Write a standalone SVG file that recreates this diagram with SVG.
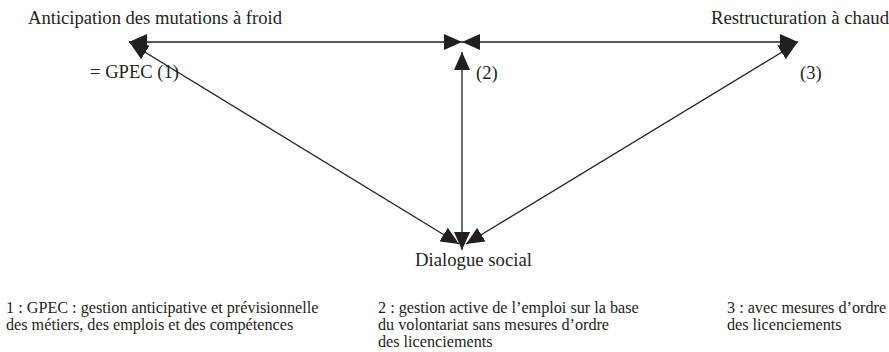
<svg xmlns="http://www.w3.org/2000/svg" width="889" height="352" viewBox="0 0 889 352">
<style>
.t{font-family:"Liberation Serif","Times New Roman",serif;font-size:18.6px;fill:#231f20}
.n{font-family:"Liberation Serif","Times New Roman",serif;font-size:16.2px;fill:#231f20}
.c{stroke:#231f20;stroke-width:1.3;fill:none;marker-start:url(#ah);marker-end:url(#ah)}
</style>
<defs>
<marker id="ah" viewBox="0 0 18 16" refX="18" refY="8" markerWidth="18" markerHeight="16" markerUnits="userSpaceOnUse" orient="auto-start-reverse">
<path d="M0,0 L18,8 L0,16 z" fill="#231f20"/>
</marker>
</defs>
<rect width="889" height="352" fill="#fff"/>
<g id="connectors">
<line class="c" x1="129" y1="42" x2="462" y2="42"/>
<line class="c" x1="462" y1="42" x2="798" y2="42"/>
<line class="c" x1="462" y1="250" x2="462" y2="52"/>
<line class="c" x1="130" y1="43" x2="459" y2="244"/>
<line class="c" x1="797" y1="43" x2="466" y2="244"/>
</g>
<g id="node-anticipation"><text class="t" x="28" y="24" textLength="254" lengthAdjust="spacingAndGlyphs">Anticipation des mutations à froid</text></g>
<g id="node-gpec"><text class="t" x="90" y="78">= GPEC (1)</text></g>
<g id="node-restructuration"><text class="t" x="711" y="24" textLength="178" lengthAdjust="spacingAndGlyphs">Restructuration à chaud</text></g>
<g id="node-2"><text class="t" x="476" y="79">(2)</text></g>
<g id="node-3"><text class="t" x="800" y="79">(3)</text></g>
<g id="node-dialogue"><text class="t" x="415" y="266" textLength="117" lengthAdjust="spacingAndGlyphs">Dialogue social</text></g>
<g id="note-1">
<text class="n" x="6" y="313">1 : GPEC : gestion anticipative et prévisionnelle</text>
<text class="n" x="6" y="330">des métiers,  des emplois et des compétences</text>
</g>
<g id="note-2">
<text class="n" x="378" y="313">2 : gestion active de l’emploi sur la base</text>
<text class="n" x="378" y="330">du volontariat sans mesures d’ordre</text>
<text class="n" x="378" y="347">des licenciements</text>
</g>
<g id="note-3">
<text class="n" x="727" y="313">3 : avec mesures d’ordre</text>
<text class="n" x="727" y="330">des licenciements</text>
</g>
</svg>
